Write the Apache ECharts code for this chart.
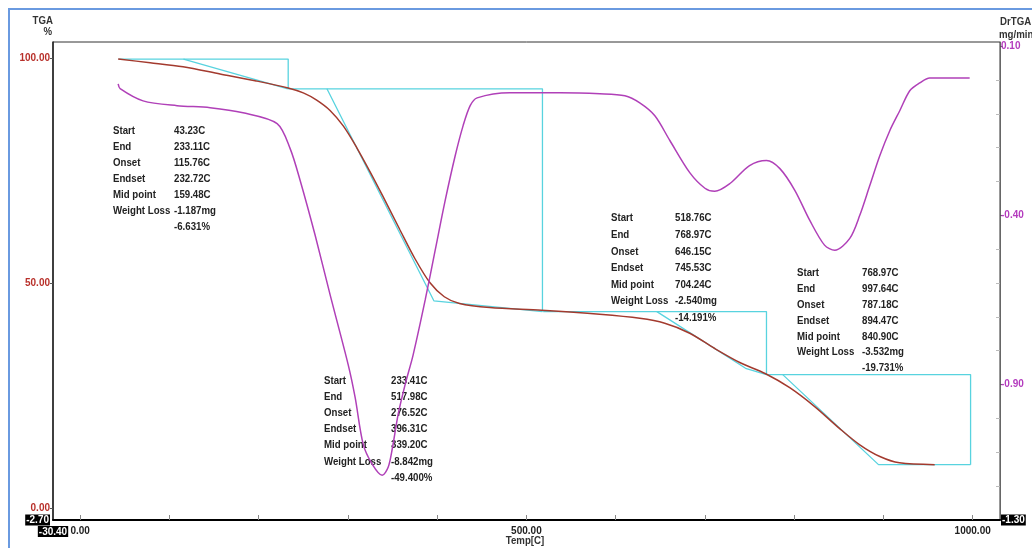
<!DOCTYPE html>
<html><head><meta charset="utf-8">
<script src="https://cdn.jsdelivr.net/npm/echarts@6/dist/echarts.min.js"></script>
<style>html,body{margin:0;padding:0;background:#fff}#c{width:1032px;height:548px}</style>
</head><body><div id="c"></div><script>
// ---- data ----
const tgaTemp   = [42.6, 78.4, 115.3, 156.8, 196, 233, 250, 265, 280, 295, 310, 325, 339, 358, 375, 392, 408, 425, 459, 517, 582, 627, 655, 683, 711, 739, 768, 795, 823, 851, 873.5, 896, 918, 957.4];
const tgaWeight = [99.7, 98.9, 98.0, 96.4, 94.9, 93.3, 92.2, 90.6, 88.3, 84.8, 80.0, 74.6, 69.3, 61.9, 55.4, 50.0, 46.9, 45.4, 44.5, 43.9, 43.0, 42.1, 41.0, 38.8, 35.4, 32.3, 29.8, 26.7, 22.5, 17.6, 14.0, 11.4, 10.0, 9.6];

const dtgTemp = [42.6, 44.8, 70.5, 108.6, 145.6, 182.5, 220.7, 235.3, 246.5, 263.3, 280.1, 300.3, 308.1, 317.1, 327.2, 338.4, 345.1, 349.6, 356.3, 364.1, 373.1, 386.6, 397.8, 409, 420.2, 429.1, 437, 444.8, 481.5, 537.5, 582.3, 610.3, 627, 643.9, 660.7, 683, 700, 711, 728, 750, 769, 784, 800.7, 817.5, 834, 845.5, 862.3, 873.5, 884.7, 895.9, 907.1, 918.3, 929.5, 940.6, 951.8, 996.6];
const dtgRate = [-0.012, -0.026, -0.062, -0.076, -0.082, -0.097, -0.129, -0.203, -0.297, -0.459, -0.635, -0.841, -0.938, -1.076, -1.135, -1.168, -1.144, -1.091, -0.988, -0.9, -0.812, -0.65, -0.503, -0.356, -0.224, -0.135, -0.076, -0.053, -0.038, -0.038, -0.041, -0.047, -0.068, -0.106, -0.179, -0.274, -0.32, -0.329, -0.306, -0.253, -0.238, -0.262, -0.326, -0.415, -0.488, -0.503, -0.468, -0.400, -0.312, -0.224, -0.150, -0.091, -0.032, -0.009, 0.006, 0.006];

// analysis step lines [Temp, TGA %]
const step1Box = [[43.23, 99.7], [233.11, 99.7], [233.11, 93.1]];
const step1Tan = [[115.76, 99.7], [232.72, 93.1]];
const step2Box = [[233.11, 93.1], [517.98, 93.1], [517.98, 43.6]];
const step2Tan = [[276.52, 93.1], [396.31, 46.0], [517.98, 43.6]];
const step3Box = [[518.76, 43.6], [768.97, 43.6], [768.97, 29.6]];
const step3Tan = [[646.15, 43.6], [745.53, 31.0], [768.97, 29.6]];
const step4Box = [[768.97, 29.6], [997.64, 29.6], [997.64, 9.6]];
const step4Tan = [[787.18, 29.6], [894.47, 9.6], [997.64, 9.6]];

// tick labels
const xLabelValues  = [-30.4, 0, 500, 1000];
const xTickValues   = [0, 100, 200, 300, 400, 500, 600, 700, 800, 900, 1000];
const tgaLabelValues = [-2.7, 0, 50, 100];
const tgaTickValues  = [0, 50, 100];
const dtgLabelValues = [-1.3, -0.9, -0.4, 0.1];
const dtgTickValues  = [0.1, -0.4, -0.9];
const dtgMinorTicks  = [0, -0.1, -0.2, -0.3, -0.5, -0.6, -0.7, -0.8, -1.0, -1.1, -1.2];

// annotation texts
const annoNames = ['Start', 'End', 'Onset', 'Endset', 'Mid point', 'Weight Loss'];
const anno1 = ['43.23C', '233.11C', '115.76C', '232.72C', '159.48C', '-1.187mg', '-6.631%'];
const anno2 = ['233.41C', '517.98C', '276.52C', '396.31C', '339.20C', '-8.842mg', '-49.400%'];
const anno3 = ['518.76C', '768.97C', '646.15C', '745.53C', '704.24C', '-2.540mg', '-14.191%'];
const anno4 = ['768.97C', '997.64C', '787.18C', '894.47C', '840.90C', '-3.532mg', '-19.731%'];

// ---- chart ----
const FONT = '"Liberation Sans",Arial,sans-serif';
const zip = (a, b) => a.map((v, i) => [v, b[i]]);
const blk = {backgroundColor: '#000', color: '#fff', padding: [1, 1, 0, 1], fontWeight: 'bold', fontSize: 10, fontFamily: FONT};
const fmt = (minV) => (v) => Math.abs(v - minV) < 1e-6 ? '{blk|' + v.toFixed(2) + '}' : v.toFixed(2);

function annoBlock(x1, x2, top, lh, vals) {
  const st = (t) => ({text: t, fontFamily: FONT, fontWeight: 'bold', fontSize: 11, fill: '#222', lineHeight: lh, verticalAlign: 'top', align: 'left'});
  return [
    {type: 'text', x: x1, y: top, scaleX: 0.88, style: st(annoNames.join('\n'))},
    {type: 'text', x: x2, y: top, scaleX: 0.88, style: st(vals.join('\n'))}
  ];
}
function hdr(text, x, yc, align) {
  return {type: 'text', x: x, y: yc, scaleX: 0.92, style: {text: text, fontFamily: FONT, fontWeight: 'bold', fontSize: 10.5, fill: '#333', align: align, verticalAlign: 'middle'}};
}

const cyan = {color: '#58d3df', width: 1.3};
function stepSeries(d) {
  return {type: 'line', data: d, yAxisIndex: 0, symbol: 'none', lineStyle: cyan, itemStyle: {color: cyan.color}, z: 2, silent: true};
}

const chart = echarts.init(document.getElementById('c'), null, {renderer: 'canvas'});
chart.setOption({
  animation: false,
  backgroundColor: '#fff',
  grid: {left: 53, right: 32, top: 42, bottom: 28, containLabel: false, outerBoundsMode: 'none', show: true, borderColor: '#333', borderWidth: 1},
  xAxis: {
    type: 'value', min: -30.4, max: 1030.6,
    axisLine: {show: true, onZero: false, lineStyle: {color: '#000', width: 2}},
    axisTick: {show: true, inside: true, length: 5, customValues: xTickValues, lineStyle: {color: '#888'}},
    axisLabel: {customValues: xLabelValues, margin: 6, formatter: fmt(-30.4), fontFamily: FONT, fontWeight: 'bold', fontSize: 10, color: '#222', rich: {blk: blk}, hideOverlap: false},
    splitLine: {show: false}
  },
  yAxis: [
    {
      type: 'value', min: -2.7, max: 103.5, position: 'left',
      axisLine: {show: true, onZero: false, lineStyle: {color: '#222', width: 1.5}},
      axisTick: {show: true, length: 3, customValues: tgaTickValues, lineStyle: {color: '#555'}},
      axisLabel: {customValues: tgaLabelValues, margin: 3, formatter: fmt(-2.7), fontFamily: FONT, fontWeight: 'bold', fontSize: 10, color: '#b8302a', rich: {blk: blk}, hideOverlap: false},
      splitLine: {show: false}
    },
    {
      type: 'value', min: -1.3, max: 0.112, position: 'right',
      axisLine: {show: true, onZero: false, lineStyle: {color: '#666', width: 1}},
      axisTick: {show: true, length: 3, customValues: dtgTickValues, lineStyle: {color: '#555'}},
      axisLabel: {customValues: dtgLabelValues, margin: 1, formatter: fmt(-1.3), fontFamily: FONT, fontWeight: 'bold', fontSize: 10, color: '#b43cbe', rich: {blk: blk}, hideOverlap: false},
      splitLine: {show: false}
    },
    {
      type: 'value', min: -1.3, max: 0.112, position: 'right',
      axisLine: {show: false, onZero: false},
      axisTick: {show: true, inside: true, length: 4, customValues: dtgMinorTicks, lineStyle: {color: '#bbb'}},
      axisLabel: {show: false},
      splitLine: {show: false}
    }
  ],
  series: [
    stepSeries(step1Box), stepSeries(step1Tan),
    stepSeries(step2Box), stepSeries(step2Tan),
    stepSeries(step3Box), stepSeries(step3Tan),
    stepSeries(step4Box), stepSeries(step4Tan),
    {type: 'line', name: 'TGA', data: zip(tgaTemp, tgaWeight), yAxisIndex: 0, smooth: 0.3, symbol: 'none',
     lineStyle: {color: '#a33a2e', width: 1.5}, itemStyle: {color: '#a33a2e'}, z: 3},
    {type: 'line', name: 'DrTGA', data: zip(dtgTemp, dtgRate), yAxisIndex: 1, smooth: 0.3, symbol: 'none',
     lineStyle: {color: '#b040b8', width: 1.5}, itemStyle: {color: '#b040b8'}, z: 3}
  ],
  graphic: [
    {type: 'rect', shape: {x: 9, y: 9, width: 1200, height: 700}, style: {fill: 'none', stroke: '#6a9ae0', lineWidth: 2}, z: -1, silent: true},
    hdr('TGA', 53, 21.5, 'right'),
    hdr('%', 52, 32, 'right'),
    hdr('DrTGA', 1000, 22, 'left'),
    hdr('mg/min', 999, 35.5, 'left'),
    hdr('Temp[C]', 525, 541.5, 'center'),
    ...annoBlock(113, 174, 123, 16, anno1),
    ...annoBlock(324, 391, 372.5, 16.2, anno2),
    ...annoBlock(611, 675, 210, 16.6, anno3),
    ...annoBlock(797, 862, 265, 15.9, anno4)
  ]
});
</script></body></html>
